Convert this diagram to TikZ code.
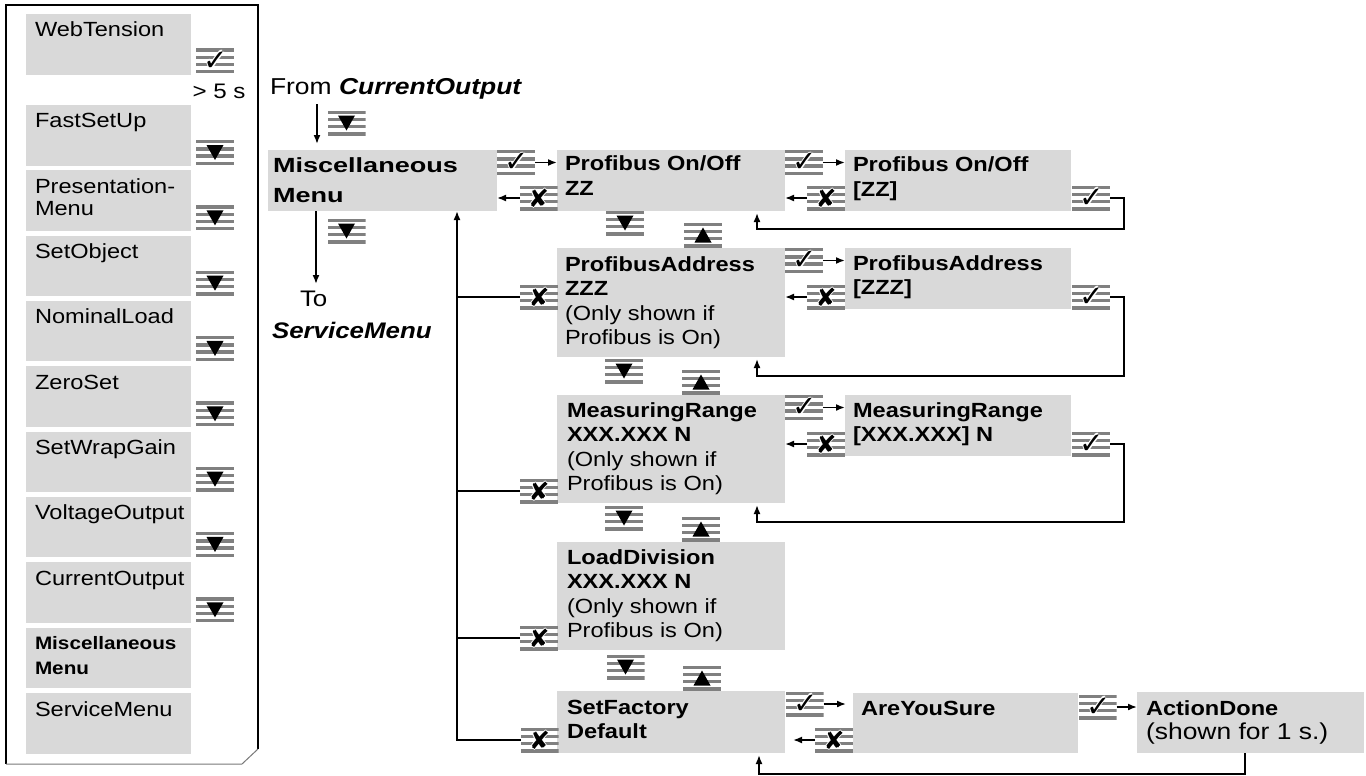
\documentclass[tikz,border=0pt]{standalone}
\usepackage{fontspec}
\setmainfont{Liberation Sans}[FakeStretch=1.15]
\newfontfamily\widefont{Liberation Sans}[FakeStretch=1.32]
\newfontfamily\symfont{DejaVu Sans}
\usetikzlibrary{arrows.meta,calc}
\definecolor{boxgray}{RGB}{217,217,217}
\definecolor{bargray}{RGB}{128,128,128}
\definecolor{framegray}{RGB}{120,120,120}
\newcommand\ml[1]{\begin{tabular}[t]{@{}l@{}}#1\end{tabular}}
\newcommand\halo[1]{\leavevmode\rlap{\color{white}\kern-1.2pt#1}\rlap{\color{white}\kern1.2pt#1}\rlap{\color{white}\raise1.2pt\hbox{#1}}\rlap{\color{white}\lower1.2pt\hbox{#1}}#1}
\newcommand\okg{\halo{✓}}
\newcommand\escg{\halo{✘}}
\newcommand\iconbars{\foreach \i in {0,1,2,3}{\fill[bargray] ($(path picture bounding box.north west)+(0,\i*7.2)$) rectangle ++(38,3.4);}}
\tikzset{
  box/.style={fill=boxgray, inner sep=0pt, outer sep=0pt, anchor=north west},
  txt/.style={anchor=base west, inner sep=0pt, outer sep=0pt, font=\fontsize{20.5}{24.5}\selectfont},
  ltxt/.style={anchor=base west, inner sep=0pt, outer sep=0pt, font=\fontsize{20.5}{22}\selectfont},
  icon/.style={minimum width=38pt, minimum height=25pt, inner sep=0pt, outer sep=0pt},
  down/.style={icon, path picture={\iconbars
     \fill[black] ($(path picture bounding box.center)+(-8.5,-7.5)$) -- ++(17,0) -- ++(-8.5,15) -- cycle;}},
  up/.style={icon, path picture={\iconbars
     \fill[black] ($(path picture bounding box.center)+(-8.5,7.5)$) -- ++(17,0) -- ++(-8.5,-15) -- cycle;}},
  ok/.style={icon, path picture={\iconbars},
     label={[inner sep=0pt, xshift=1pt, font=\symfont\fontsize{29}{29}\selectfont]center:\okg}},
  esc/.style={icon, path picture={\iconbars},
     label={[inner sep=0pt, font=\symfont\fontsize{25}{25}\selectfont]center:\escg}},
  ln/.style={line width=1.7pt},
  arr/.style={line width=1.7pt, -{Latex[length=9pt,width=7pt]}},
}
\begin{document}
\begin{tikzpicture}[x=1pt,y=-1pt]
\useasboundingbox (0,0) rectangle (1366,776);

% ---------- left panel ----------
\draw[line width=1.3pt] (258,749) -- (258,5) -- (6,5) -- (6,764);
\draw[line width=1pt, framegray] (6,764) -- (242,764) -- (258,749);

\node[box, minimum width=165pt, minimum height=61pt] (l-wt) at (26,14) {};
\node[ltxt] (lt-wt) at ($(l-wt.north west)+(9,23)$) {WebTension};
\node[ok] (li-wt) at (215,61) {};
\node[ltxt, font=\fontsize{21}{21}\selectfont] (gt5) at (192.5,99) {> 5 s};

\foreach \k/\nm/\lbl in {0/fs/FastSetUp, 1/pm/{\ml{Presentation-\\Menu}}, 2/so/SetObject,
    3/nl/NominalLoad, 4/zs/ZeroSet, 5/swg/SetWrapGain, 6/vo/VoltageOutput, 7/co/CurrentOutput}{
  \node[box, minimum width=165pt, minimum height=60.5pt] (l-\nm) at (26,105+65.33*\k) {};
  \node[ltxt] (lt-\nm) at ($(l-\nm.north west)+(9,23)$) {\lbl};
  \node[down] (li-\nm) at (215,105+65.33*\k+47.5) {};
}
\node[box, minimum width=165pt, minimum height=60.5pt] (l-mm) at (26,627.7) {};
\node[ltxt, font=\fontsize{18}{25}\selectfont\bfseries] (lt-mm) at ($(l-mm.north west)+(9,22)$) {\ml{Miscellaneous\\Menu}};
\node[box, minimum width=165pt, minimum height=60.5pt] (l-sm) at (26,693) {};
\node[ltxt] (lt-sm) at ($(l-sm.north west)+(9,23)$) {ServiceMenu};

% ---------- main boxes ----------
\node[box, minimum width=229pt, minimum height=61pt] (misc) at (268,150) {};
\node[box, minimum width=228pt, minimum height=61pt] (p1) at (557,150) {};
\node[box, minimum width=226pt, minimum height=61pt] (p1b) at (845,150) {};
\node[box, minimum width=228pt, minimum height=109pt] (pa) at (557,248) {};
\node[box, minimum width=226pt, minimum height=61pt] (pab) at (845,248) {};
\node[box, minimum width=228pt, minimum height=108pt] (mr) at (557,395) {};
\node[box, minimum width=226pt, minimum height=61pt] (mrb) at (845,395) {};
\node[box, minimum width=228pt, minimum height=108pt] (ld) at (557,542) {};
\node[box, minimum width=228pt, minimum height=62pt] (sf) at (557,691) {};
\node[box, minimum width=225pt, minimum height=60pt] (ays) at (853,693) {};
\node[box, minimum width=227pt, minimum height=61pt] (ad) at (1137,692) {};

% ---------- texts ----------
\node[txt, font=\fontsize{23}{23}\selectfont] (from) at (270,95) {From \textbf{\textit{CurrentOutput}}};
\node[txt, font=\fontsize{22.5}{22.5}\selectfont] (to1) at (300,306) {To};
\node[txt, font=\fontsize{22.5}{22.5}\selectfont] (to2) at (272,338) {\textbf{\textit{ServiceMenu}}};

\node[txt, font=\widefont\fontsize{20.5}{30}\selectfont\bfseries] (t-misc) at ($(misc.north west)+(5,22)$) {\ml{Miscellaneous\\Menu}};
\node[txt, font=\fontsize{20.5}{25.5}\selectfont\bfseries] (t-p1) at ($(p1.north west)+(8,20)$) {\ml{Profibus On/Off\\ZZ}};
\node[txt, font=\fontsize{20.5}{25.5}\selectfont\bfseries] (t-p1b) at ($(p1b.north west)+(8,21)$) {\ml{Profibus On/Off\\\relax[ZZ]}};
\node[txt] (t-pa) at ($(pa.north west)+(8,23)$) {\ml{\textbf{ProfibusAddress}\\\textbf{ZZZ}\\(Only shown if\\Profibus is On)}};
\node[txt, font=\fontsize{20.5}{24.5}\selectfont\bfseries] (t-pab) at ($(pab.north west)+(8,22)$) {\ml{ProfibusAddress\\\relax[ZZZ]}};
\node[txt] (t-mr) at ($(mr.north west)+(10,22)$) {\ml{\textbf{MeasuringRange}\\\textbf{XXX.XXX N}\\(Only shown if\\Profibus is On)}};
\node[txt, font=\fontsize{20.5}{24.5}\selectfont\bfseries] (t-mrb) at ($(mrb.north west)+(8,22)$) {\ml{MeasuringRange\\\relax[XXX.XXX] N}};
\node[txt] (t-ld) at ($(ld.north west)+(10,22)$) {\ml{\textbf{LoadDivision}\\\textbf{XXX.XXX N}\\(Only shown if\\Profibus is On)}};
\node[txt, font=\fontsize{20.5}{24.5}\selectfont\bfseries] (t-sf) at ($(sf.north west)+(10,23)$) {\ml{SetFactory\\Default}};
\node[txt, font=\fontsize{20.5}{24.5}\selectfont\bfseries] (t-ays) at ($(ays.north west)+(8,22)$) {AreYouSure};
\node[txt] (t-ad) at ($(ad.north west)+(9,23)$) {\ml{\textbf{ActionDone}\\{\fontsize{23}{24.5}\selectfont (shown for 1 s.)}}};

% ---------- icons ----------
\node[down] (d-from) at (346.5,123) {};
\node[down] (d-misc) at (346.5,231) {};
\node[ok] (ok-misc) at (516,162.5) {};
\node[esc] (esc-p1) at (538.5,198) {};
\node[ok] (ok-p1) at (804,162.5) {};
\node[esc] (esc-p1b) at (826,198) {};
\node[ok] (okb-p1) at (1091,198) {};
\node[down] (d-1) at (625,223) {};
\node[up] (u-1) at (703,235) {};

\node[esc] (esc-pa) at (539,297) {};
\node[ok] (ok-pa) at (804,260.5) {};
\node[esc] (esc-pab) at (826,297) {};
\node[ok] (okb-pa) at (1091,297) {};
\node[down] (d-2) at (624,371) {};
\node[up] (u-2) at (701,382) {};

\node[esc] (esc-mr) at (539,491) {};
\node[ok] (ok-mr) at (804,407.5) {};
\node[esc] (esc-mrb) at (826,444) {};
\node[ok] (okb-mr) at (1091,444) {};
\node[down] (d-3) at (624,518) {};
\node[up] (u-3) at (701,529) {};

\node[esc] (esc-ld) at (539,638) {};
\node[down] (d-4) at (625.5,667) {};
\node[up] (u-4) at (702,678) {};

\node[esc] (esc-sf) at (539.5,740) {};
\node[ok] (ok-sf) at (804.5,704) {};
\node[esc] (esc-ays) at (834,740) {};
\node[ok] (ok-ays) at (1097.5,707) {};

% ---------- connectors ----------
\coordinate (c-from) at (317,104);
\draw[arr, shorten >=6pt] (c-from) -- (c-from |- misc.north);
\coordinate (c-to) at (316,284);
\draw[arr] (c-to |- misc.south) -- (c-to);

\draw[arr] (ok-misc.east) -- (ok-misc.east -| p1.west);
\draw[arr] (esc-p1.west) -- (esc-p1.west -| misc.east);
\draw[arr] (ok-p1.east) -- (ok-p1.east -| p1b.west);
\draw[arr] (esc-p1b.west) -- (esc-p1b.west -| p1.east);
\coordinate (c-l1) at (757,229);
\draw[arr, shorten >=2pt] (okb-p1.east) -- ++(14,0) |- (c-l1) -- (c-l1 |- p1.south);

\draw[arr] (ok-pa.east) -- (ok-pa.east -| pab.west);
\draw[arr] (esc-pab.west) -- (esc-pab.west -| pa.east);
\coordinate (c-l2) at (757,376);
\draw[arr, shorten >=2pt] (okb-pa.east) -- ++(14,0) |- (c-l2) -- (c-l2 |- pa.south);

\draw[arr] (ok-mr.east) -- (ok-mr.east -| mrb.west);
\draw[arr] (esc-mrb.west) -- (esc-mrb.west -| mr.east);
\coordinate (c-l3) at (757,522);
\draw[arr, shorten >=2pt] (okb-mr.east) -- ++(14,0) |- (c-l3) -- (c-l3 |- mr.south);

\draw[arr, shorten >=7pt] (ok-sf.east) -- (ok-sf.east -| ays.west);
\draw[arr, shorten >=8pt] (esc-ays.west) -- (esc-ays.west -| sf.east);
\draw[arr] (ok-ays.east) -- (ok-ays.east -| ad.west);
\coordinate (c-l4) at (759,774);
\draw[arr, shorten >=2pt] ($(ad.south west)+(108,0)$) |- (c-l4) -- (c-l4 |- sf.south);

\coordinate (c-vb) at (457,740);
\draw[arr] (esc-sf.west) -- (c-vb) -- (c-vb |- misc.south);
\draw[ln] (esc-pa.west) -- (esc-pa.west -| c-vb);
\draw[ln] (esc-mr.west) -- (esc-mr.west -| c-vb);
\draw[ln] (esc-ld.west) -- (esc-ld.west -| c-vb);
\end{tikzpicture}
\end{document}
